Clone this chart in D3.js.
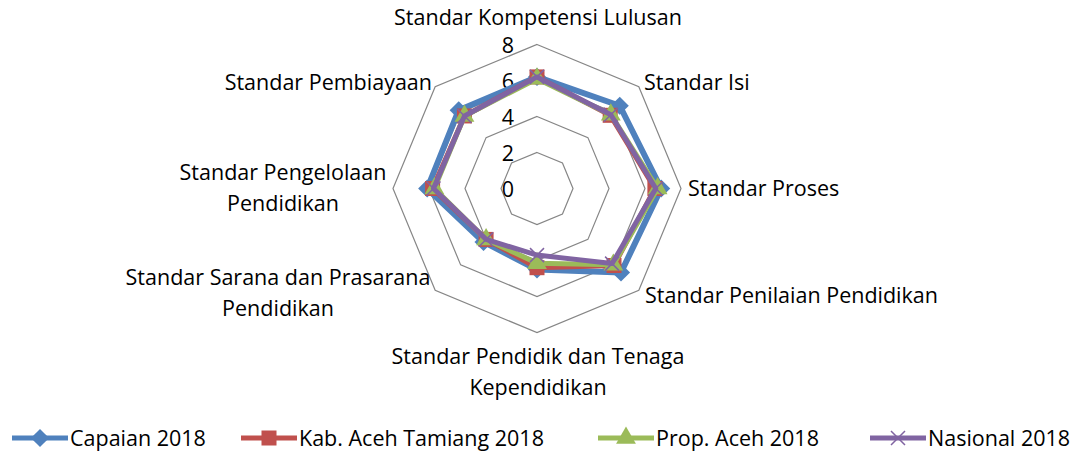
<!DOCTYPE html>
<html>
<head>
<meta charset="utf-8">
<script src="https://cdn.jsdelivr.net/npm/d3@7"></script>
<style>
  body { margin: 0; background: #fff; }
  text { font-family: "Open Sans", sans-serif; fill: #000; }
</style>
</head>
<body>
<div id="radar"></div>
<script>
// axes, clockwise from top
const categories = [
    ["Standar Kompetensi Lulusan"],
    ["Standar Isi"],
    ["Standar Proses"],
    ["Standar Penilaian Pendidikan"],
    ["Standar Pendidik dan Tenaga", "Kependidikan"],
    ["Standar Sarana dan Prasarana", "Pendidikan"],
    ["Standar Pengelolaan", "Pendidikan"],
    ["Standar Pembiayaan"]
];
const seriesNames = ["Capaian 2018", "Kab. Aceh Tamiang 2018", "Prop. Aceh 2018", "Nasional 2018"];
const capaian = [6.2, 6.5, 6.9, 6.6, 4.5, 4.2, 6.1, 6.15];
const kabupaten = [6.2, 5.75, 6.55, 6.05, 4.4, 4.0, 5.8, 5.7];
const provinsi = [6.1, 5.8, 6.7, 6.0, 4.15, 4.0, 5.7, 5.7];
const nasional = [6.2, 5.8, 6.6, 5.9, 3.7, 4.0, 5.75, 5.7];
const ticks = [0, 2, 4, 6, 8];

const width = 1074, height = 452;
const cx = 537, cy = 188.5, radius = 144;
const colors = ["#4F81BD", "#C0504D", "#9BBB59", "#8064A2"];
const seriesData = [capaian, kabupaten, provinsi, nasional];
const fontSize = "21.5px";

const svg = d3.select("#radar").append("svg")
    .attr("width", width)
    .attr("height", height);

const g = svg.append("g")
    .attr("transform", "translate(" + cx + "," + cy + ")");

const r = d3.scaleLinear().domain([0, 8]).range([0, radius]);
const angle = d3.scaleLinear().domain([0, categories.length]).range([0, 2 * Math.PI]);

function point(i, v) {
    const a = angle(i);
    return [r(v) * Math.sin(a), -r(v) * Math.cos(a)];
}

// grid octagons
ticks.filter(t => t > 0).forEach(t => {
    g.append("path")
        .attr("d", d3.lineRadial()
            .angle((d, i) => angle(i))
            .radius(() => r(t))
            .curve(d3.curveLinearClosed)(categories))
        .style("fill", "none")
        .style("stroke", "#868686")
        .style("stroke-width", 1.2);
});

// axis tick labels
g.selectAll(".tick-label")
    .data(ticks)
    .enter()
    .append("text")
    .attr("x", -29)
    .attr("y", d => -r(d))
    .attr("dy", "0.4em")
    .attr("text-anchor", "middle")
    .style("font-size", fontSize)
    .text(d => d);

// category labels
const labelPos = [
    {x: 1, y: -171, anchor: "middle"},
    {x: 107, y: -106, anchor: "start"},
    {x: 151, y: 0, anchor: "start"},
    {x: 108, y: 107, anchor: "start"},
    {x: 1, y: 168, anchor: "middle"},
    {x: -259, y: 89, anchor: "middle"},
    {x: -254, y: -16, anchor: "middle"},
    {x: -105, y: -106, anchor: "end"}
];
categories.forEach((lines, i) => {
    const p = labelPos[i];
    const t = g.append("text")
        .attr("text-anchor", p.anchor)
        .style("font-size", fontSize);
    lines.forEach((line, j) => {
        t.append("tspan")
            .attr("x", p.x)
            .attr("y", p.y + j * 31)
            .attr("dy", "0.35em")
            .text(line);
    });
});

// markers
function marker(sel, k, color) {
    if (k === 0) {
        sel.append("path").attr("d", d3.symbol().type(d3.symbolDiamond2).size(210)())
            .style("fill", color);
    } else if (k === 1) {
        sel.append("rect").attr("x", -7.5).attr("y", -7.5).attr("width", 15).attr("height", 15)
            .style("fill", color);
    } else if (k === 2) {
        sel.append("path").attr("d", d3.symbol().type(d3.symbolTriangle).size(170)())
            .style("fill", color);
    } else {
        sel.append("path").attr("d", "M-7,-7L7,7M-7,7L7,-7")
            .style("stroke", color).style("stroke-width", 1.5).style("fill", "none");
    }
}

// series lines
seriesData.forEach((vals, k) => {
    g.append("path")
        .attr("d", d3.lineRadial()
            .angle((d, i) => angle(i))
            .radius(d => r(d))
            .curve(d3.curveLinearClosed)(vals))
        .style("fill", "none")
        .style("stroke", colors[k])
        .style("stroke-width", k === 0 ? 6 : 5)
        .style("stroke-linejoin", "round");
    vals.forEach((v, i) => {
        const p = point(i, v);
        const m = g.append("g").attr("transform", "translate(" + p[0] + "," + p[1] + ")");
        marker(m, k, colors[k]);
    });
});

// legend
const legendX = [12, 241, 598, 870];
seriesNames.forEach((name, k) => {
    const lg = svg.append("g").attr("transform", "translate(" + legendX[k] + ",438)");
    lg.append("line")
        .attr("x1", 0).attr("x2", 56)
        .style("stroke", colors[k])
        .style("stroke-width", 5);
    const m = lg.append("g").attr("transform", "translate(28,0)");
    marker(m, k, colors[k]);
    lg.append("text")
        .attr("x", 58)
        .attr("dy", "0.35em")
        .style("font-size", fontSize)
        .text(name);
});
</script>
</body>
</html>
